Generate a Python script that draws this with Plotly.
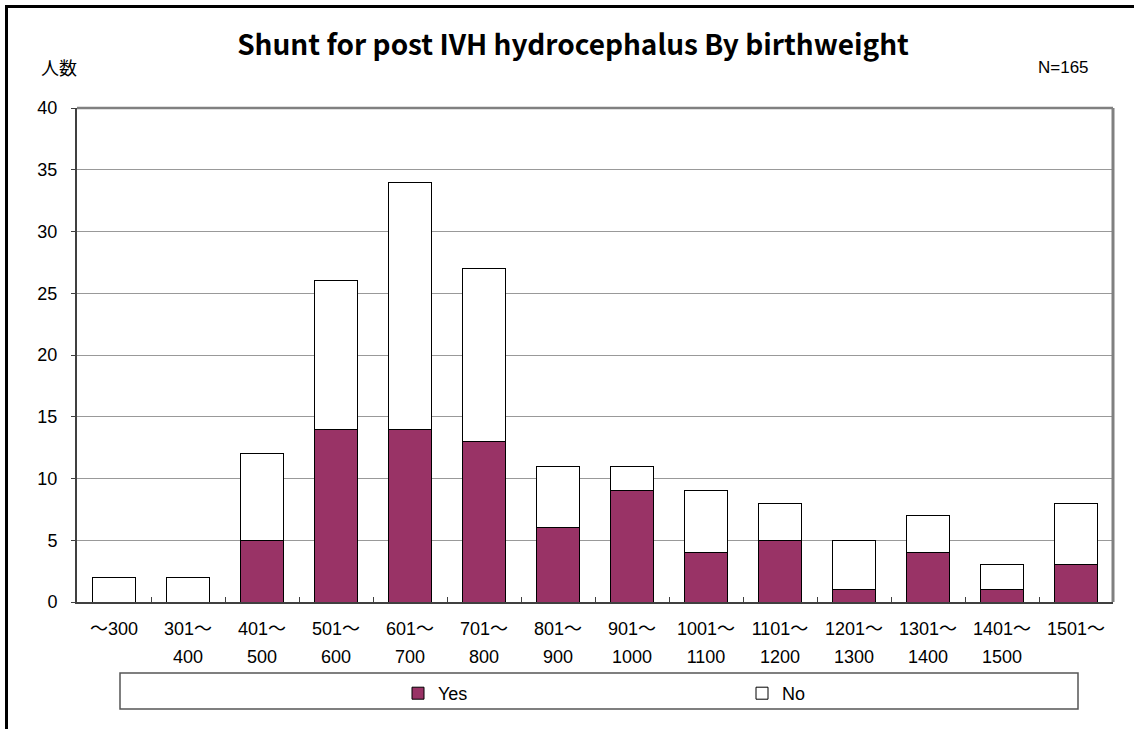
import plotly.graph_objects as go

# Birthweight bands (g) and shunt counts
categories = ["～300", "301～400", "401～500", "501～600", "601～700", "701～800",
              "801～900", "901～1000", "1001～1100", "1101～1200", "1201～1300",
              "1301～1400", "1401～1500", "1501～"]
label_top = ["～300", "301～", "401～", "501～", "601～", "701～", "801～", "901～",
             "1001～", "1101～", "1201～", "1301～", "1401～", "1501～"]
label_bottom = ["", "400", "500", "600", "700", "800", "900", "1000",
                "1100", "1200", "1300", "1400", "1500", ""]
shunt_yes = [0, 0, 5, 14, 14, 13, 6, 9, 4, 5, 1, 4, 1, 3]
shunt_no = [2, 2, 7, 12, 20, 14, 5, 2, 5, 3, 4, 3, 2, 5]
y_ticks = [0, 5, 10, 15, 20, 25, 30, 35, 40]
total_n = sum(shunt_yes) + sum(shunt_no)

FONT = "Liberation Sans, Arial, Noto Sans CJK JP, sans-serif"
W, H = 1134, 729
ML, MR, MT, MB = 77, 21, 108, 127
PW, PH = W - ML - MR, H - MT - MB


def px_x(px):
    return (px - ML) / PW


def px_y(py):
    return (H - MB - py) / PH


fig = go.Figure()
fig.add_bar(x=categories, y=shunt_yes, name="Yes", legend="legend",
            marker=dict(color="#993366", line=dict(color="#000000", width=1)))
fig.add_bar(x=categories, y=shunt_no, name="No", legend="legend2",
            marker=dict(color="#FFFFFF", line=dict(color="#000000", width=1)))

legend_common = dict(orientation="h", xanchor="left", yanchor="top",
                     bgcolor="rgba(0,0,0,0)", borderwidth=0,
                     font=dict(size=18))
x_range = [-0.5, len(categories) - 0.5]

fig.update_layout(
    width=W, height=H, autosize=False,
    margin=dict(l=ML, r=MR, t=MT, b=MB, autoexpand=False),
    barmode="stack", bargap=0.41,
    paper_bgcolor="white", plot_bgcolor="white",
    font=dict(family=FONT, size=18, color="#000000"),
    title=dict(text="Shunt for post IVH hydrocephalus By birthweight",
               x=px_x(573), xref="paper", xanchor="center",
               y=1 - 45 / H, yanchor="middle",
               font=dict(family="Noto Sans CJK JP, sans-serif", size=28, weight=700)),
    xaxis=dict(type="category", categoryorder="array", categoryarray=categories,
               range=x_range, autorange=False,
               tickvals=categories, ticktext=label_top, tickson="boundaries",
               tickangle=0,
               ticks="inside", ticklen=5, tickcolor="#404040", tickwidth=1,
               showline=True, linecolor="#404040", linewidth=2,
               showgrid=False, ticklabelstandoff=9,
               tickfont=dict(size=18)),
    xaxis2=dict(overlaying="x", matches="x", anchor="y", side="bottom",
                type="category", categoryorder="array", categoryarray=categories,
                tickvals=categories, ticktext=label_bottom, tickangle=0,
                ticks="", showline=False, showgrid=False,
                ticklabelstandoff=42, tickfont=dict(size=18)),
    yaxis=dict(range=[0, 40], tickvals=y_ticks, ticks="outside", ticklen=4,
               tickcolor="#404040", showline=True, linecolor="#404040", linewidth=2,
               showgrid=True, gridcolor="#999999", gridwidth=1,
               zeroline=False, ticklabelstandoff=10, tickfont=dict(size=18)),
    legend=dict(legend_common, x=px_x(398), y=px_y(675)),
    legend2=dict(legend_common, x=px_x(742), y=px_y(675)),
    showlegend=True,
)

# empty trace so the second axis is drawn
fig.add_scatter(x=categories, y=[None] * len(categories), xaxis="x2",
                showlegend=False, hoverinfo="skip")

shapes = [
    # plot-area top and right border
    dict(type="line", xref="paper", yref="paper", x0=0, x1=1, y0=1, y1=1,
         line=dict(color="#808080", width=2.5)),
    dict(type="line", xref="paper", yref="paper", x0=1, x1=1, y0=0, y1=1,
         line=dict(color="#808080", width=3)),
    # legend box
    dict(type="rect", xref="paper", yref="paper",
         x0=px_x(120), x1=px_x(1078), y0=px_y(709), y1=px_y(673),
         line=dict(color="#555555", width=1.5), fillcolor="rgba(0,0,0,0)"),
    # outer chart frame
    dict(type="rect", xref="paper", yref="paper",
         x0=px_x(6.5), x1=px_x(1145), y0=px_y(745), y1=px_y(6.5),
         line=dict(color="#000000", width=3), fillcolor="rgba(0,0,0,0)"),
]
fig.update_layout(shapes=shapes)

fig.add_annotation(text="人数", xref="paper", yref="paper",
                   x=px_x(59), y=px_y(67), xanchor="center", yanchor="middle",
                   showarrow=False, font=dict(family="Noto Sans CJK JP, sans-serif", size=18))
fig.add_annotation(text=f"N={total_n}", xref="paper", yref="paper",
                   x=px_x(1091), y=px_y(68), xanchor="right", yanchor="middle",
                   showarrow=False, font=dict(size=17))

fig.write_html("out.html")
